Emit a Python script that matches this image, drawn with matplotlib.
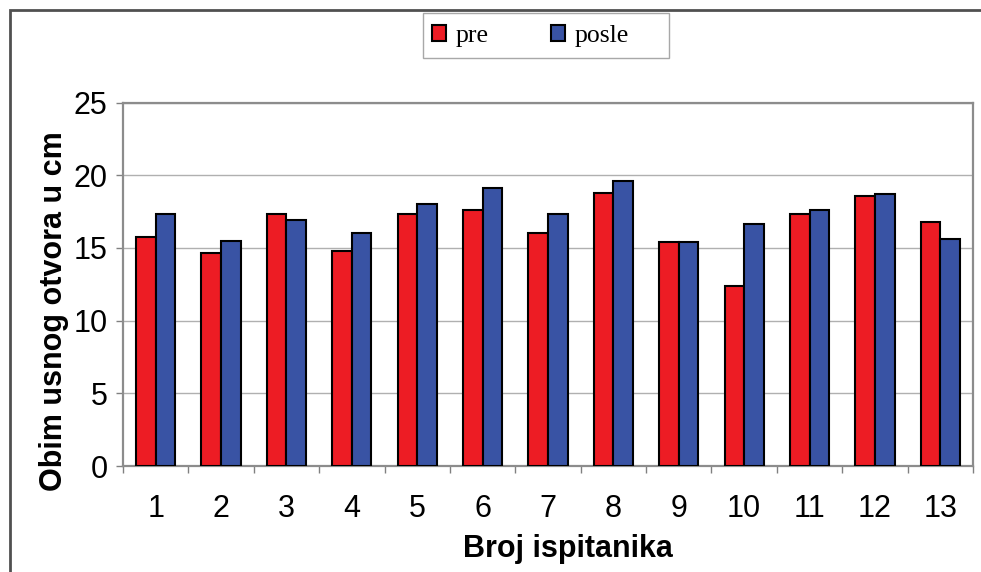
import matplotlib.pyplot as plt
import numpy as np
from matplotlib.patches import Rectangle

# Broj ispitanika 1..13
subjects = [str(i) for i in range(1, 14)]
pre = [15.75, 14.65, 17.33, 14.78, 17.33, 17.61, 16.0, 18.8, 15.43, 12.35, 17.33, 18.55, 16.78]
posle = [17.36, 15.47, 16.94, 16.0, 18.0, 19.1, 17.36, 19.63, 15.43, 16.64, 17.61, 18.69, 15.59]

W, H = 981, 572
fig = plt.figure(figsize=(W / 100, H / 100), dpi=100)
ax = fig.add_axes([123 / W, 1 - 466 / H, 850 / W, 363.5 / H])

x = np.arange(len(subjects))
width = 0.3
ax.bar(x - width / 2, pre, width, color='#ED1C24', edgecolor='black', linewidth=1.5, label='pre', zorder=3)
ax.bar(x + width / 2, posle, width, color='#3953A4', edgecolor='black', linewidth=1.5, label='posle', zorder=3)

ax.set_xlim(-0.5, len(subjects) - 0.5)
ax.set_ylim(0, 25)
ax.set_yticks([0, 5, 10, 15, 20, 25])
ax.yaxis.grid(True, color='#b0b0b0', linewidth=1.0, zorder=0)

ax.set_xticks(x)
ax.set_xticklabels(subjects)
ax.set_xticks(np.arange(-0.5, len(subjects)), minor=True)
ax.tick_params(axis='x', which='major', length=0, pad=20, labelsize=22)
ax.tick_params(axis='x', which='minor', length=5, color='#808080', width=1)
ax.tick_params(axis='y', length=5, color='#808080', width=1, pad=6, labelsize=22)
for lab in ax.get_xticklabels() + ax.get_yticklabels():
    lab.set_family('Liberation Sans')

for s in ax.spines.values():
    s.set_color('#8c8c8c')
    s.set_linewidth(1.6)

ax.set_ylabel('Obim usnog otvora u cm', fontsize=22, fontweight='bold',
              family='Liberation Sans', va='center')
ax.yaxis.set_label_coords(-0.081, 0.425)
ax.set_xlabel('Broj ispitanika', fontsize=22, fontweight='bold',
              family='Liberation Sans', va='center')
ax.xaxis.set_label_coords(0.523, -0.228)

# legend box (Excel style, extra room on the right)
fig.patches.append(Rectangle((423 / W, 1 - 58 / H), 246 / W, 45 / H,
                             transform=fig.transFigure, fill=True,
                             facecolor='white', edgecolor='#a8a8a8', linewidth=1.0))
leg = fig.legend(loc='center left', bbox_to_anchor=(432 / W, 1 - 36 / H), ncol=2,
                 prop={'family': 'Liberation Serif', 'size': 18.5},
                 frameon=False, borderpad=0, borderaxespad=0,
                 handlelength=0.55, handleheight=0.62, handletextpad=0.35,
                 columnspacing=2.45)

# outer chart frame
fig.patches.append(Rectangle((10 / W, -0.05), 1.2, 1 - 10 / H + 0.05,
                             transform=fig.transFigure, fill=False,
                             edgecolor='#505050', linewidth=2))

fig.savefig('out.png', dpi=100)
